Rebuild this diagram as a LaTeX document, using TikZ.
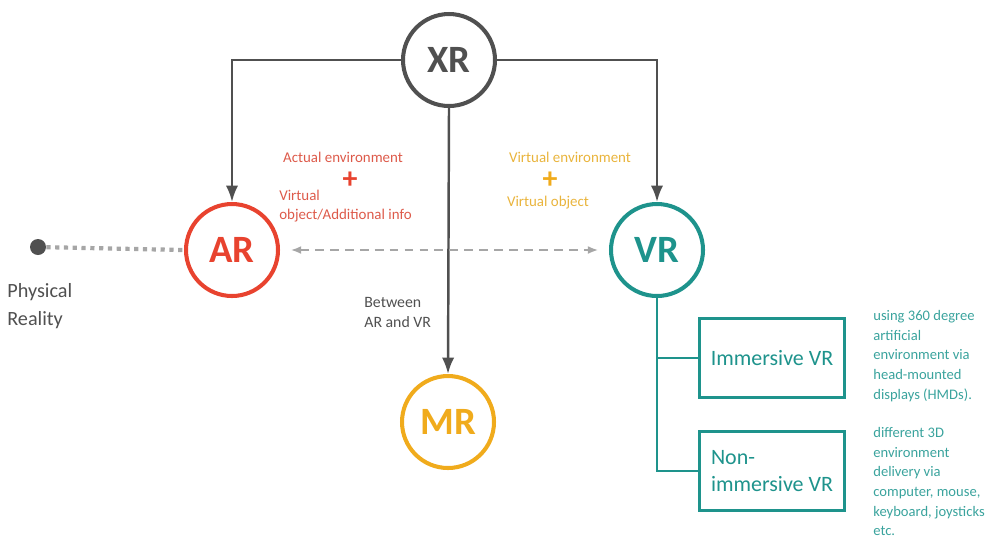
\documentclass[tikz,border=0pt]{standalone}
\usepackage{fontspec}
\setmainfont{Carlito}
\usetikzlibrary{arrows.meta,positioning}

\definecolor{xrgray}{HTML}{505050}
\definecolor{arred}{HTML}{E8432F}
\definecolor{mryellow}{HTML}{F0AB1C}
\definecolor{vrteal}{HTML}{1E938C}
\definecolor{redtext}{HTML}{DD5A4A}
\definecolor{yellowtext}{HTML}{E9B43C}
\definecolor{tealtext}{HTML}{3AA39D}

\tikzset{
  ring/.style={circle,draw=#1,line width=2.3pt,minimum size=1.84cm,inner sep=0pt,
    text=#1,font=\fontsize{22}{24}\selectfont\bfseries},
  link/.style={draw=xrgray,line width=1.4pt},
  vrbox/.style={draw=vrteal,line width=1.7pt,minimum width=2.9cm,minimum height=1.58cm,
    text=vrteal,font=\fontsize{12.5}{15}\selectfont},
  note/.style={font=\fontsize{8.5}{10.5}\selectfont,align=left,inner sep=0pt},
  vrnote/.style={note,text=tealtext,font=\fontsize{8.3}{11.2}\selectfont,anchor=north west},
  plus/.style={font=\fontsize{17}{17}\selectfont\bfseries,inner sep=0pt}
}

\begin{document}
\begin{tikzpicture}[x=0.02cm,y=-0.02cm,>=Latex]
\useasboundingbox (0,0) rectangle (999,539);

% circles
\node[ring=xrgray] (xr) at (449,60) {XR};
\node[ring=arred] (ar) at (232,250) {AR};
\node[ring=vrteal] (vr) at (657,250) {VR};
\node[ring=mryellow] (mr) at (448,422) {MR};

% physical reality
\node[circle,fill=xrgray,minimum size=0.32cm,inner sep=0pt] (phys) at (38,247) {};
\node[note,anchor=west,text=xrgray,font=\fontsize{11.5}{16}\selectfont] (physlbl) at (7,306) {Physical\\Reality};

% connectors from XR
\draw[link,->] (xr.west) -| (ar.north);
\draw[link,->] (xr.east) -| (vr.north);
\draw[link,->] (xr.south) -- (mr.north);

\draw[draw=black!35,line width=2.4pt,dash pattern=on 2.4pt off 2.6pt] (phys) -- (ar.west);
\draw[draw=black!35,line width=1.6pt,dash pattern=on 5pt off 3.5pt,{Latex[length=6pt]}-{Latex[length=6pt]}]
  ([xshift=6]ar.east) -- ([xshift=-6]vr.west);

% AR notes
\node[note,text=redtext] (actual) at (343,157) {Actual environment};
\node[plus,text=arred] (arplus) at (350,180) {+};
\node[note,text=redtext,anchor=west] (virtobj) at (279,206) {Virtual\\object/Additional info};

% VR notes
\node[note,text=yellowtext] (virtenv) at (570,157) {Virtual environment};
\node[plus,text=mryellow] (vrplus) at (550,180) {+};
\node[note,text=yellowtext] (virtobj2) at (548,203) {Virtual object};

% MR note
\node[note,anchor=west,text=xrgray,font=\fontsize{9}{11.4}\selectfont] (between) at (364,312) {Between\\AR and VR};

% VR types
\node[vrbox] (imm) at (772,358) {Immersive VR};
\node[vrbox,align=left] (nonimm) at (772,471) {Non-\\immersive VR};
\draw[draw=vrteal,line width=1.4pt] (vr.south) |- (imm.west);
\draw[draw=vrteal,line width=1.4pt] (vr.south) |- (nonimm.west);

\node[vrnote] (immnote) at (873,310) {using 360 degree\\artificial\\environment via\\head-mounted\\displays (HMDs).};
\node[vrnote] (nonimmnote) at (873,427) {different 3D\\environment\\delivery via\\computer, mouse,\\keyboard, joysticks\\etc.};
\end{tikzpicture}
\end{document}
